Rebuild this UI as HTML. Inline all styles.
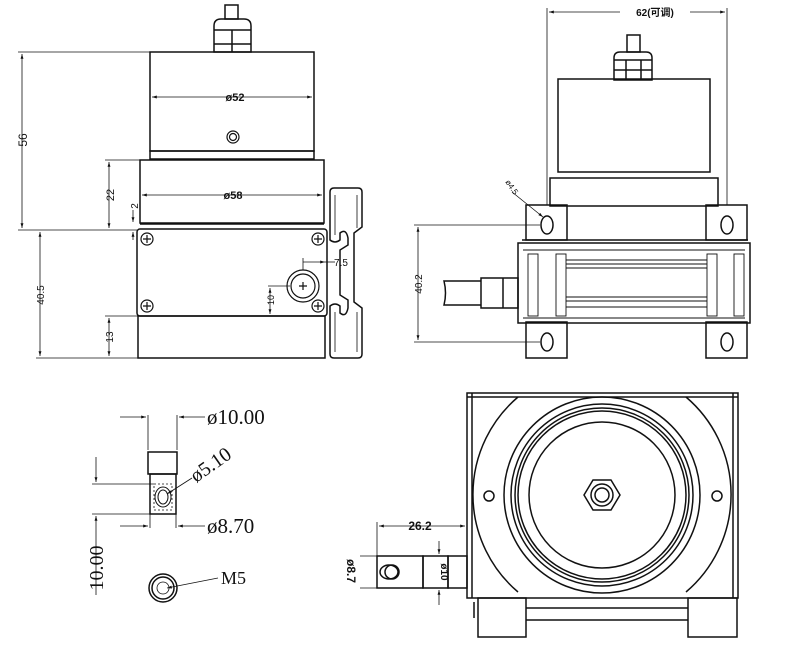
<!DOCTYPE html>
<html><head><meta charset="utf-8"><style>
html,body{margin:0;padding:0;background:#fff;}
svg{display:block}
text{font-family:"Liberation Sans","Noto Sans CJK SC",sans-serif;fill:#111}
.s{font-family:"Liberation Serif","Noto Serif CJK SC",serif}
</style></head><body>
<svg width="790" height="658" viewBox="0 0 790 658" xmlns="http://www.w3.org/2000/svg">
<defs>
<marker id="a" viewBox="0 0 10 10" refX="10" refY="5" markerWidth="6" markerHeight="6" orient="auto-start-reverse"><path d="M0,2L10,5L0,8z" fill="#111"/></marker>
</defs>
<g fill="none" stroke="#111" stroke-width="1.5">
<!-- LEFT VIEW -->
<rect x="225" y="5" width="13" height="14"/>
<path d="M214,52V26Q214,19 221,19H244Q251,19 251,26V52Z"/>
<line x1="214" y1="30" x2="251" y2="30"/><line x1="214" y1="44" x2="251" y2="44"/>
<line x1="232" y1="30" x2="232" y2="52"/>
<rect x="150" y="52" width="164" height="99"/>
<rect x="150" y="151" width="164" height="8"/>
<rect x="140" y="160" width="184" height="63"/>
<line x1="140" y1="224" x2="324" y2="224"/>
<rect x="137" y="229" width="190" height="87" rx="3"/>
<rect x="138" y="316" width="187" height="42"/>
<g stroke-width="1.2">
<circle cx="147" cy="239" r="6"/><circle cx="318" cy="239" r="6"/><circle cx="147" cy="306" r="6"/><circle cx="318" cy="306" r="6"/>
<path d="M143,239h8M147,235v8M314,239h8M318,235v8M143,306h8M147,302v8M314,306h8M318,302v8"/>
<circle cx="303" cy="286" r="16"/><circle cx="303" cy="286" r="12"/><path d="M299,286h8M303,282v8"/>
<circle cx="233" cy="137" r="6"/><circle cx="233" cy="137" r="3.5"/>
</g>
<path d="M330,192Q330,188 334,188H358Q362,188 362,192V227L354,233V302L362,308V354Q362,358 358,358H334Q330,358 330,354V306Q335,302 340,306V313Q346,318 348,308V300L340,295V250L348,245V238Q346,228 340,233V240Q335,244 330,240Z"/>
<path d="M335,195V235M357,195V228M357,312V352M335,312V352" stroke-width="0.8"/>
<g stroke-width="0.8">
<line x1="18" y1="52" x2="150" y2="52"/><line x1="18" y1="230" x2="137" y2="230"/>
<line x1="22" y1="54" x2="22" y2="228" marker-start="url(#a)" marker-end="url(#a)"/>
<line x1="105" y1="160" x2="140" y2="160"/><line x1="36" y1="358" x2="138" y2="358"/>
<line x1="109" y1="162" x2="109" y2="228" marker-start="url(#a)" marker-end="url(#a)"/>
<line x1="133" y1="210" x2="133" y2="222" marker-end="url(#a)"/><line x1="133" y1="240" x2="133" y2="232" marker-end="url(#a)"/>
<line x1="40" y1="232" x2="40" y2="356" marker-start="url(#a)" marker-end="url(#a)"/>
<line x1="105" y1="316" x2="138" y2="316"/>
<line x1="109" y1="318" x2="109" y2="356" marker-start="url(#a)" marker-end="url(#a)"/>
<line x1="152" y1="97" x2="312" y2="97" marker-start="url(#a)" marker-end="url(#a)"/>
<line x1="142" y1="195" x2="322" y2="195" marker-start="url(#a)" marker-end="url(#a)"/>
<line x1="303" y1="262" x2="325" y2="262" marker-end="url(#a)"/><line x1="325" y1="262" x2="335" y2="262"/>
<line x1="303" y1="258" x2="303" y2="270"/>
<line x1="268" y1="286" x2="290" y2="286"/>
<line x1="270" y1="288" x2="270" y2="314" marker-start="url(#a)" marker-end="url(#a)"/>
</g>
<!-- RIGHT TOP VIEW -->
<rect x="627" y="35" width="13" height="17"/>
<path d="M614,80V58Q614,52 620,52H646Q652,52 652,58V80Z"/>
<line x1="614" y1="60" x2="652" y2="60"/><line x1="614" y1="70" x2="652" y2="70"/><line x1="626" y1="60" x2="626" y2="80"/><line x1="641" y1="60" x2="641" y2="80"/>
<rect x="558" y="79" width="152" height="93"/>
<rect x="550" y="178" width="168" height="28"/>
<rect x="526" y="205" width="41" height="35"/><rect x="706" y="205" width="41" height="35"/>
<rect x="526" y="322" width="41" height="36"/><rect x="706" y="322" width="41" height="36"/>
<ellipse cx="547" cy="225" rx="6" ry="9"/><ellipse cx="727" cy="225" rx="6" ry="9"/>
<ellipse cx="547" cy="342" rx="6" ry="9"/><ellipse cx="727" cy="342" rx="6" ry="9"/>
<rect x="518" y="243" width="232" height="80"/>
<line x1="522" y1="240" x2="748" y2="240"/>
<g stroke-width="0.9">
<rect x="528" y="254" width="10" height="62"/><rect x="556" y="254" width="10" height="62"/>
<rect x="707" y="254" width="10" height="62"/><rect x="734" y="254" width="10" height="62"/>
<path d="M566,260H707M566,264H707M566,268H707M566,297H707M566,301H707M566,307H707M523,250H745M523,318H745"/>
</g>
<rect x="481" y="278" width="37" height="30"/><line x1="503" y1="278" x2="503" y2="308"/>
<path d="M481,281H444Q447,293 444,305H481"/>
<g stroke-width="0.8">
<line x1="547" y1="8" x2="547" y2="205"/><line x1="727" y1="8" x2="727" y2="205"/>
<line x1="549" y1="12" x2="620" y2="12" marker-start="url(#a)"/><line x1="690" y1="12" x2="725" y2="12" marker-end="url(#a)"/>
<line x1="414" y1="225" x2="540" y2="225"/><line x1="414" y1="342" x2="540" y2="342"/>
<line x1="418" y1="227" x2="418" y2="340" marker-start="url(#a)" marker-end="url(#a)"/>
<line x1="512" y1="192" x2="543" y2="217" marker-end="url(#a)"/>
</g>
<!-- BOTTOM VIEW -->
<rect x="467" y="393" width="271" height="205"/>
<line x1="467" y1="397" x2="738" y2="397"/><line x1="472" y1="393" x2="472" y2="598"/><line x1="733" y1="393" x2="733" y2="598"/>
<path d="M518,397A128,128 0 0 0 518,592M686,397A128,128 0 0 1 686,592"/>
<circle cx="602" cy="495" r="98"/><circle cx="602" cy="495" r="91"/><circle cx="602" cy="495" r="87"/><circle cx="602" cy="495" r="84"/><circle cx="602" cy="495" r="73"/>
<polygon points="584,495 593,480 611,480 620,495 611,510 593,510"/>
<circle cx="602" cy="495" r="11"/><circle cx="602" cy="495" r="7"/>
<circle cx="489" cy="496" r="5"/><circle cx="717" cy="496" r="5"/>
<rect x="478" y="598" width="48" height="39"/><rect x="688" y="598" width="49" height="39"/>
<path d="M526,608H688M526,620H688M474,602V618"/>
<rect x="377" y="556" width="46" height="32"/><rect x="423" y="556" width="25" height="32"/><rect x="448" y="556" width="19" height="32"/>
<ellipse cx="389" cy="572" rx="9" ry="7"/><ellipse cx="392" cy="572" rx="7" ry="7"/>
<g stroke-width="0.8">
<line x1="377" y1="522" x2="377" y2="556"/>
<line x1="379" y1="526" x2="465" y2="526" marker-start="url(#a)" marker-end="url(#a)"/>
<line x1="439" y1="541" x2="439" y2="554" marker-end="url(#a)"/><line x1="439" y1="605" x2="439" y2="590" marker-end="url(#a)"/>
<line x1="360" y1="556" x2="377" y2="556"/><line x1="360" y1="588" x2="377" y2="588"/>
</g>
<!-- SMALL PART -->
<rect x="148" y="452" width="29" height="22"/>
<rect x="150" y="474" width="26" height="40"/>
<rect x="154" y="484" width="18" height="26" stroke-dasharray="2,2" stroke-width="0.8"/>
<ellipse cx="163" cy="497" rx="8" ry="10" stroke-width="1"/><ellipse cx="163" cy="497" rx="5" ry="7" stroke-width="1"/>
<circle cx="163" cy="588" r="14"/><circle cx="163" cy="588" r="11"/><circle cx="163" cy="588" r="6" stroke-width="0.8"/>
<g stroke-width="0.8">
<line x1="148" y1="415" x2="148" y2="450"/><line x1="177" y1="415" x2="177" y2="450"/>
<line x1="120" y1="417" x2="146" y2="417" marker-end="url(#a)"/><line x1="205" y1="417" x2="179" y2="417" marker-end="url(#a)"/>
<line x1="120" y1="526" x2="148" y2="526" marker-end="url(#a)"/><line x1="205" y1="526" x2="178" y2="526" marker-end="url(#a)"/>
<line x1="150" y1="514" x2="150" y2="528"/><line x1="176" y1="514" x2="176" y2="528"/>
<line x1="92" y1="484" x2="154" y2="484"/><line x1="92" y1="514" x2="150" y2="514"/>
<line x1="96" y1="457" x2="96" y2="482" marker-end="url(#a)"/><line x1="96" y1="595" x2="96" y2="516" marker-end="url(#a)"/>
<line x1="192" y1="478" x2="167" y2="494" marker-end="url(#a)"/>
<line x1="218" y1="578" x2="167" y2="588" marker-end="url(#a)"/>
</g>
</g>
<!-- TEXT -->
<g font-size="11" font-weight="bold">
<text x="235" y="101" text-anchor="middle">ø52</text>
<text x="233" y="199" text-anchor="middle">ø58</text>
<text x="341" y="266" text-anchor="middle" font-size="10" font-weight="normal">7.5</text>
<text transform="translate(27,140) rotate(-90)" text-anchor="middle" font-size="12" font-weight="normal">56</text>
<text transform="translate(114,195) rotate(-90)" text-anchor="middle" font-weight="normal">22</text>
<text transform="translate(138,206) rotate(-90)" text-anchor="middle" font-size="10" font-weight="normal">2</text>
<text transform="translate(44,295) rotate(-90)" text-anchor="middle" font-size="10" font-weight="normal">40.5</text>
<text transform="translate(113,337) rotate(-90)" text-anchor="middle" font-size="10" font-weight="normal">13</text>
<text transform="translate(274,300) rotate(-90)" text-anchor="middle" font-size="9" font-weight="normal">10</text>
<text x="655" y="16" text-anchor="middle" font-size="10">62(可调)</text>
<text transform="translate(422,284) rotate(-90)" text-anchor="middle" font-size="10" font-weight="normal">40.2</text>
<text transform="translate(505,182) rotate(55)" font-size="8" font-weight="normal">ø4.5</text>
<text x="420" y="530" text-anchor="middle" font-size="12">26.2</text>
<text transform="translate(441,572) rotate(90)" text-anchor="middle" font-size="10">ø10</text>
<text transform="translate(347,571) rotate(90)" text-anchor="middle" font-size="12">ø8.7</text>
</g>
<g class="s" font-size="20">
<text x="207" y="424" class="s" font-size="21">ø10.00</text>
<text x="207" y="533" class="s" font-size="21">ø8.70</text>
<text transform="translate(196,483) rotate(-35)" class="s">ø5.10</text>
<text transform="translate(103,568) rotate(-90)" text-anchor="middle" class="s">10.00</text>
<text x="221" y="584" class="s" font-size="18">M5</text>
</g>
</svg>
</body></html>
